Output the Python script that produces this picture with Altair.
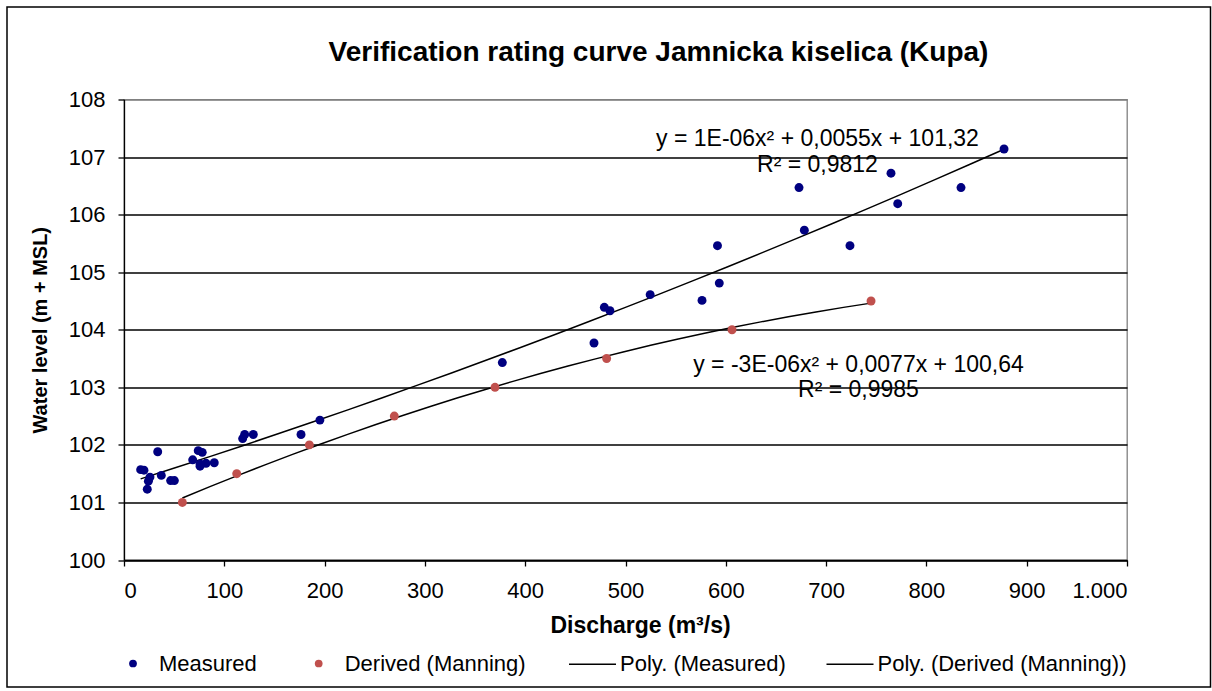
import altair as alt
import pandas as pd

# Measured discharge (m3/s) and water level (m + MSL)
measured_q = [16.6, 19.9, 33.6, 25.9, 24.3, 23.2, 37.2, 46.5, 50.2, 68.5, 74.0, 78.0,
              75.8, 81.8, 75.8, 90.0, 118.3, 120.3, 128.9, 176.5, 195.3, 377.2, 468.6,
              478.9, 484.5, 524.6, 576.3, 593.5, 591.7, 673.0, 678.3, 723.8, 764.7,
              771.4, 834.5, 877.4]
measured_h = [101.57, 101.56, 101.88, 101.44, 101.37, 101.23, 101.47, 101.38, 101.38,
              101.74, 101.90, 101.87, 101.67, 101.68, 101.63, 101.69, 102.11, 102.18,
              102.18, 102.18, 102.43, 103.43, 103.77, 104.39, 104.33, 104.61, 104.51,
              104.81, 105.46, 106.47, 105.73, 105.46, 106.72, 106.19, 106.47, 107.14]

# Levels derived with the Manning equation
derived_q = [58.2, 112.4, 184.8, 269.5, 369.9, 481.2, 606.2, 744.8]
derived_h = [101.0, 101.5, 102.0, 102.5, 103.0, 103.5, 104.0, 104.5]

point_series = ["Measured", "Derived (Manning)"]
point_colors = ["#000080", "#C0504D"]
trend_series = ["Poly. (Measured)", "Poly. (Derived (Manning))"]

# Trendline equation labels
eq_text = ["y = 1E-06x² + 0,0055x + 101,32", "R² = 0,9812",
           "y = -3E-06x² + 0,0077x + 100,64", "R² = 0,9985"]
eq_q = [691.4, 691.4, 732.3, 732.3]
eq_h = [107.31, 106.86, 103.38, 102.95]

x_ticks = list(range(0, 1001, 100))
y_ticks = list(range(100, 109))

FONT = "Liberation Sans"

points = pd.DataFrame({
    "Q": measured_q + derived_q,
    "H": measured_h + derived_h,
    "series": ["Measured"] * len(measured_q) + ["Derived (Manning)"] * len(derived_q),
})
labels = pd.DataFrame({"Q": eq_q, "H": eq_h, "text": eq_text})

legend_common = dict(
    title=None, orient="none", direction="horizontal", padding=0,
    labelFont=FONT, labelFontSize=22, labelColor="black", labelLimit=400,
)
point_legend = alt.Legend(legendX=-2, legendY=553, columns=2, columnPadding=50.7,
                          symbolType="circle", symbolSize=60, labelOffset=15,
                          symbolOpacity=1, **legend_common)
trend_legend = alt.Legend(legendX=444, legendY=540, columns=2, columnPadding=37.5,
                          symbolType="stroke", symbolSize=2209, labelOffset=3,
                          symbolStrokeWidth=1.5, symbolStrokeColor="black",
                          **legend_common)

x_enc = alt.X("Q:Q", scale=alt.Scale(domain=[0, 1000], nice=False),
              axis=alt.Axis(values=x_ticks, grid=False, title="Discharge (m³/s)",
                            labelExpr="replace(format(datum.value, ','), ',', '.')",
                            titleX=516, titleY=65, titleBaseline="middle",
                            titleAlign="center", titleFontSize=23))
y_enc = alt.Y("H:Q", scale=alt.Scale(domain=[100, 108], nice=False, zero=False),
              axis=alt.Axis(values=y_ticks, grid=True, format="d",
                            title="Water level (m + MSL)",
                            gridColor={"condition": {"test": "datum.value === 108",
                                                     "value": "#808080"},
                                       "value": "black"},
                            titleX=-84, titleY=230.25, titleAngle=270,
                            titleBaseline="middle", titleAlign="center",
                            titleFontSize=20))

pts = alt.Chart(points).mark_circle(size=80, opacity=1).encode(
    x=x_enc, y=y_enc,
    color=alt.Color("series:N",
                    scale=alt.Scale(domain=point_series, range=point_colors),
                    legend=point_legend))

trend = alt.Chart(points).transform_regression(
    "Q", "H", method="poly", order=2, groupby=["series"]
).transform_calculate(
    trend="'Poly. (' + datum.series + ')'"
).mark_line(strokeWidth=1.5).encode(
    x="Q:Q", y="H:Q",
    stroke=alt.Stroke("trend:N",
                      scale=alt.Scale(domain=trend_series, range=["black", "black"]),
                      legend=trend_legend))

eqs = alt.Chart(labels).mark_text(
    font=FONT, fontSize=23, color="black", align="center", baseline="middle"
).encode(x="Q:Q", y="H:Q", text="text:N")

frame = alt.Chart(alt.Data(values=[{}])).mark_rect(
    fill=None, stroke="black", strokeWidth=1.5
).encode(x=alt.value(-117), x2=alt.value(1086.5), y=alt.value(-92.5), y2=alt.value(587.5))

chart = alt.layer(frame, trend, pts, eqs).properties(
    width=1003, height=460.5,
    autosize="none",
    padding={"left": 124, "top": 99.5, "right": 85, "bottom": 131},
    title=alt.Title("Verification rating curve Jamnicka kiselica (Kupa)",
                    font=FONT, fontSize=28, fontWeight="bold", color="black",
                    anchor="middle", frame="group", dx=33, offset=-82.75,
                    baseline="alphabetic"),
).configure_view(
    stroke="#808080", strokeWidth=1.3
).configure_axis(
    domainColor="black", domainWidth=1.3, tickColor="black", tickWidth=1.3,
    tickSize=6, labelFont=FONT, labelFontSize=22, labelColor="black",
    titleFont=FONT, titleFontWeight="bold", titleColor="black",
    gridWidth=1.4,
).configure_axisY(
    labelPadding=13,
).configure_axisX(
    labelPadding=14,
)

chart.save("out.html", embed_options={"renderer": "svg", "actions": False})
